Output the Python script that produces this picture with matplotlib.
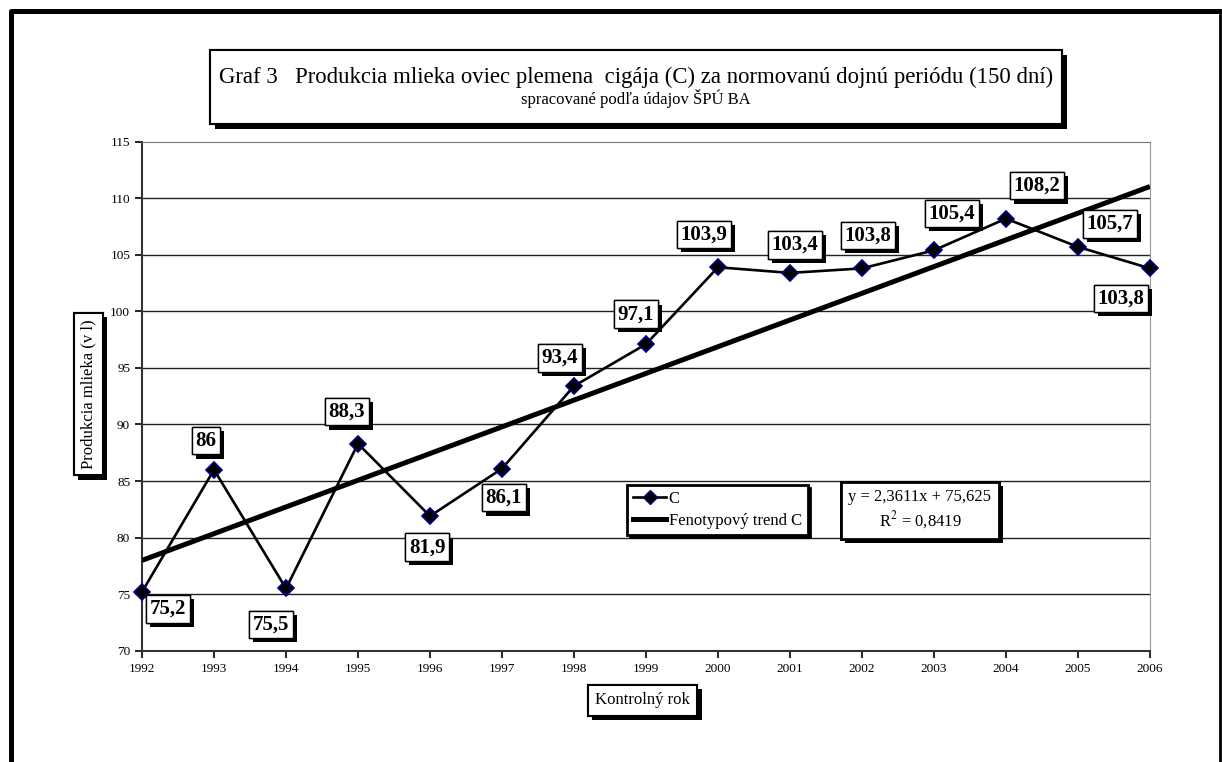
import numpy as np
import matplotlib
matplotlib.use('Agg')
import matplotlib.pyplot as plt
import matplotlib.patheffects as pe
from matplotlib.patches import Rectangle
from matplotlib.lines import Line2D

years = [1992, 1993, 1994, 1995, 1996, 1997, 1998, 1999, 2000, 2001, 2002, 2003, 2004, 2005, 2006]
milk = [75.2, 86.0, 75.5, 88.3, 81.9, 86.1, 93.4, 97.1, 103.9, 103.4, 103.8, 105.4, 108.2, 105.7, 103.8]
trend_slope = 2.3611
trend_icept = 75.625
yticks = [70, 75, 80, 85, 90, 95, 100, 105, 110, 115]

# label offsets (pixels) from the point
label_off = [(26, -17), (-8, 29), (-15, -36), (-11, 32), (-3, -31), (2, -29), (-14, 28), (-10, 30),
             (-14, 33), (5, 28), (6, 33), (18, 37), (31, 33), (32, 23), (-29, -30)]

plt.rcParams['font.family'] = ['Liberation Serif', 'DejaVu Serif']
plt.rcParams['mathtext.fontset'] = 'stix'

W, H = 1222, 762
fig = plt.figure(figsize=(W / 100, H / 100), dpi=100)
ax = fig.add_axes([142 / W, 1 - 650.7 / H, 1008 / W, 509 / H])

shadow = [pe.withSimplePatchShadow(offset=(3, -3), shadow_rgbFace='black', alpha=1), pe.Normal()]

idx = np.arange(1, len(years) + 1)
trend = trend_slope * idx + trend_icept
ax.plot(years, trend, color='black', lw=3.6, zorder=3, solid_capstyle='butt')
ax.plot(years, milk, color='black', lw=1.9, marker='D', ms=8, mfc='black', mec='#000080', mew=1.2,
        zorder=4, clip_on=False)

for x, v, (dx, dy) in zip(years, milk, label_off):
    s = f'{v:g}'.replace('.', ',')
    a = ax.annotate(s, xy=(x, v), xytext=(dx, dy), textcoords='offset pixels', ha='center', va='center',
                    fontsize=15, fontweight='bold', zorder=6, annotation_clip=False,
                    bbox=dict(boxstyle='square,pad=0.18', fc='white', ec='black', lw=1))
    a.get_bbox_patch().set_path_effects(shadow)

ax.set_xlim(1992, 2006)
ax.set_ylim(70, 115)
ax.set_xticks(years)
ax.set_yticks(yticks)
ax.tick_params(labelsize=9.5, length=5, width=1.2, direction='out')
for y in yticks[1:-1]:
    ax.axhline(y, color='#222222', lw=1, zorder=1)
ax.spines['top'].set_color('#777777')
ax.spines['right'].set_color('#999999')
ax.spines['left'].set_color('#333333')
ax.spines['bottom'].set_color('#333333')
ax.spines['left'].set_linewidth(1.5)
ax.spines['bottom'].set_linewidth(1.5)

# legend
h1 = Line2D([], [], color='black', lw=1.9, marker='D', ms=7, mfc='black', mec='#000080')
h2 = Line2D([], [], color='black', lw=3.6)
leg = ax.legend([h1, h2], ['C', 'Fenotypový trend C'], loc='upper left',
                bbox_to_anchor=(627 / W, 1 - 485 / H), bbox_transform=fig.transFigure,
                fontsize=12, handlelength=2.0, handletextpad=0.15, borderpad=0.35, labelspacing=0.35,
                borderaxespad=0, fancybox=False, framealpha=1, edgecolor='black',
                shadow={'facecolor': 'black', 'edgecolor': 'black', 'alpha': 1})
leg.get_frame().set_linewidth(2)
leg.set_zorder(7)

# equation box
eq = fig.text(920 / W, 1 - 510 / H, 'y = 2,3611x + 75,625\nR$^2$ = 0,8419', ha='center', va='center',
              fontsize=12, linespacing=1.3,
              bbox=dict(boxstyle='square,pad=0.45', fc='white', ec='black', lw=2))
eq.get_bbox_patch().set_path_effects(shadow)

# axis titles
yl = fig.text(88.5 / W, 1 - 394 / H, 'Produkcia mlieka (v l)', rotation=90, ha='center', va='center',
              fontsize=12, bbox=dict(boxstyle='square,pad=0.4', fc='white', ec='black', lw=1.5))
yl.get_bbox_patch().set_path_effects(shadow)
xl = fig.text(642.5 / W, 1 - 700.5 / H, 'Kontrolný rok', ha='center', va='center',
              fontsize=12, bbox=dict(boxstyle='square,pad=0.45', fc='white', ec='black', lw=1.5))
xl.get_bbox_patch().set_path_effects(shadow)

# title box
tb = Rectangle((210 / W, 1 - 124 / H), 852 / W, 74 / H, transform=fig.transFigure,
               fc='white', ec='black', lw=1.5)
tb.set_path_effects([pe.withSimplePatchShadow(offset=(3.5, -3.5), shadow_rgbFace='black', alpha=1),
                     pe.Normal()])
fig.add_artist(tb)
fig.text(636 / W, 1 - 77 / H,
         'Graf 3   Produkcia mlieka oviec plemena  cigája (C) za normovanú dojnú periódu (150 dní)',
         ha='center', va='center', fontsize=16.4)
fig.text(636 / W, 1 - 98 / H, 'spracované podľa údajov ŠPÚ BA', ha='center', va='center', fontsize=12)

# outer frame
fig.add_artist(Line2D([10.5 / W, 10.5 / W, 1219 / W], [0, 1 - 10.5 / H, 1 - 10.5 / H],
                      transform=fig.transFigure, color='black', lw=3.6))
fig.add_artist(Line2D([1219.5 / W, 1219.5 / W], [1 - 10.5 / H, 0],
                      transform=fig.transFigure, color='black', lw=2))

fig.savefig('out.png', dpi=100)
